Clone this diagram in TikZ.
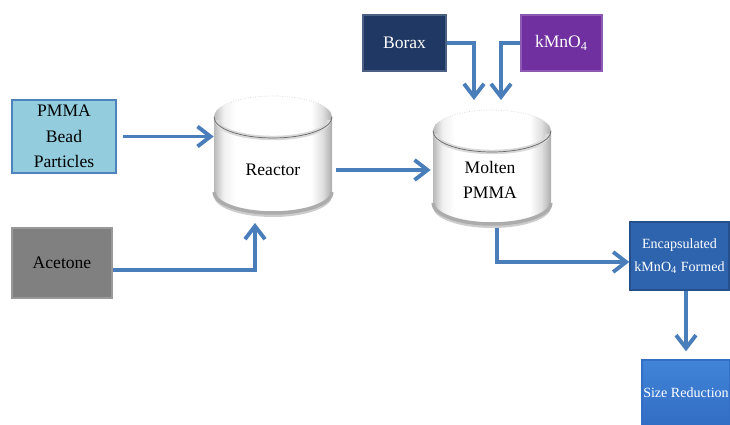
\documentclass[tikz,border=0pt]{standalone}
\usepackage{fontspec}
\setmainfont{Liberation Serif}
\usetikzlibrary{calc,arrows.meta}

\definecolor{flowblue}{RGB}{74,126,187}
\definecolor{beadblue}{RGB}{147,205,221}
\definecolor{beadedge}{RGB}{79,129,189}
\definecolor{boraxnavy}{RGB}{31,56,100}
\definecolor{kmnpurple}{RGB}{112,48,160}
\definecolor{encapblue}{RGB}{46,100,174}
\definecolor{sizetop}{RGB}{64,132,216}
\definecolor{sizebot}{RGB}{50,110,196}

\pgfdeclarehorizontalshading{tankshade}{100bp}{color(0bp)=(gray!55); color(25bp)=(gray!55); color(29bp)=(gray!12); color(34bp)=(white); color(66bp)=(white); color(71bp)=(gray!25); color(75bp)=(gray!65); color(100bp)=(gray!65)}

% tank body: (centre x, top ellipse y, bottom ellipse y)
\def\tank(#1,#2,#3){%
	\fill[gray!40] (#1,#3-4) ellipse (59 and 21);
	\shade[shading=tankshade] (#1-59,#2) -- (#1-59,#3) arc (180:360:59 and 21) -- (#1+59,#2) arc (0:180:59 and 21) -- cycle;
	\draw[gray!65, line width=2pt] (#1-59,#3) arc (180:360:59 and 21);
	\draw[gray!35, densely dotted] (#1+59,#2) arc (0:180:59 and 21);
	\draw[gray!30, line width=2.5pt] (#1-56,#2-3) arc (180:360:56 and 18);
	\draw[black!60] (#1-59,#2) arc (180:360:59 and 21);
}

\tikzset{
	flow/.style={line width=2.2pt, flowblue, -{Straight Barb[length=2.6mm,width=4mm]}},
	feedbox/.style={draw, line width=0.8pt, align=center, inner sep=0pt, font=\fontsize{10}{14.5}\selectfont},
	stepnode/.style={draw, line width=0.8pt, align=center, inner sep=0pt, text=white, font=\fontsize{8}{13}\selectfont},
	tanklabel/.style={align=center, inner sep=0pt, font=\fontsize{10}{14}\selectfont}
}

\begin{document}
\begin{tikzpicture}[x=0.02cm, y=0.02cm]
			%%%%% START %%%%%
			\useasboundingbox (0,0) rectangle (730,425);
			
			% tanks
			\tank(273,308,233)
			\tank(492,294,222)
			\node[tanklabel, minimum width=2.36cm, minimum height=1.72cm] (reactor) at (273,255) {Reactor};
			\node[tanklabel, minimum width=2.36cm, minimum height=1.92cm] (molten) at (490,245) {Molten\\PMMA};
			
			% feeds
			\node[feedbox, fill=beadblue, draw=beadedge, minimum width=2.08cm, minimum height=1.46cm] (pmma) at (64,288.5) {PMMA\\Bead\\Particles};
			\node[feedbox, fill=black!50, draw=black!40, minimum width=2cm, minimum height=1.4cm] (acetone) at (62,162) {Acetone};
			\node[feedbox, fill=boraxnavy, draw=boraxnavy!80, text=white, minimum width=1.66cm, minimum height=1.12cm] (borax) at (404.5,382) {Borax};
			\node[feedbox, fill=kmnpurple, draw=kmnpurple!80, text=white, minimum width=1.62cm, minimum height=1.12cm] (kmno) at (561.5,382) {kMnO\textsubscript{4}};
			
			% products
			\node[stepnode, fill=encapblue, draw=encapblue!80!black, minimum width=1.98cm, minimum height=1.36cm] (encap) at (679.5,169) {Encapsulated\\kMnO\textsubscript{4} Formed};
			\node[stepnode, top color=sizetop, bottom color=sizebot, draw=sizebot, minimum width=1.76cm, minimum height=1.3cm] (sizered) at (686,32.5) {Size Reduction};
			
			\coordinate (rin) at (255,202);
			\coordinate (bin) at (474,325);
			\coordinate (kin) at (501,325);
			
			% arrows
			\draw[flow] ([xshift=0.12cm]pmma.east) -- (pmma.east -| reactor.west);
			\draw[flow] ([yshift=-0.14cm]acetone.east) -| (rin);
			\draw[flow] ([xshift=0.08cm]reactor.east) -- (reactor.east -| molten.west);
			\draw[flow] (borax.east) -| (bin);
			\draw[flow] (kmno.west) -| (kin);
			\draw[flow] ($(molten.south)+(7,0)$) |- ($(encap.west)+(0,-6)$);
			\draw[flow] (sizered.north |- encap.south) -- ($(sizered.north)+(0,8)$);
			
			%%%%% END %%%%%
		\end{tikzpicture}
\end{document}
